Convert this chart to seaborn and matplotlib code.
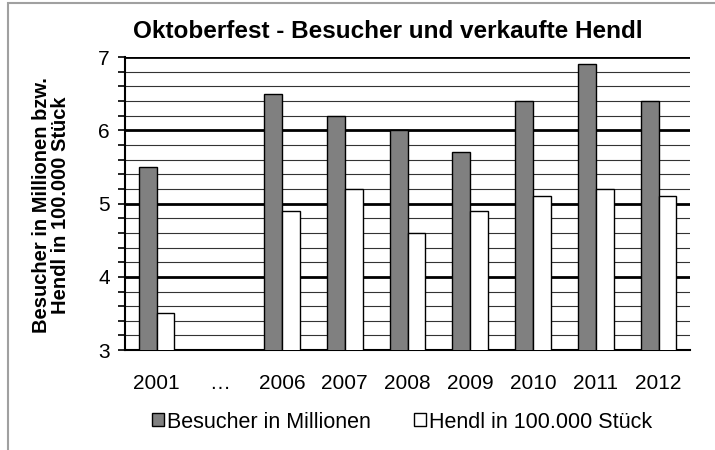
import matplotlib
matplotlib.use("Agg")
import matplotlib.pyplot as plt
from matplotlib.patches import Rectangle
from matplotlib.ticker import MultipleLocator
import seaborn as sns
import pandas as pd
import numpy as np

years = ["2001", "…", "2006", "2007", "2008", "2009", "2010", "2011", "2012"]
besucher = [5.5, np.nan, 6.5, 6.2, 6.0, 5.7, 6.4, 6.9, 6.4]
hendl = [3.5, np.nan, 4.9, 5.2, 4.6, 4.9, 5.1, 5.2, 5.1]
series = ["Besucher in Millionen", "Hendl in 100.000 Stück"]

sns.set_theme(style="white")
plt.rcParams['font.family'] = ['Liberation Sans', 'DejaVu Sans']
for k in ["text.color", "axes.labelcolor", "xtick.color", "ytick.color"]:
    plt.rcParams[k] = "black"

df = pd.DataFrame({
    "Jahr": years * 2,
    "Wert": besucher + hendl,
    "Serie": [series[0]] * len(years) + [series[1]] * len(years),
})

fig = plt.figure(figsize=(7.15, 4.5), dpi=100)
ax = fig.add_axes([0.175, 0.222, 0.79, 0.651])

sns.barplot(data=df, x="Jahr", y="Wert", hue="Serie", order=years,
            hue_order=series, palette=["#808080", "#ffffff"], width=0.57,
            edgecolor="black", linewidth=1.0, ax=ax, legend=True, zorder=3)

ax.set_ylim(3, 7)
ax.yaxis.set_major_locator(MultipleLocator(1))
ax.yaxis.set_minor_locator(MultipleLocator(0.2))
ax.grid(True, which="major", axis="y", color="black", linewidth=2.0, zorder=0)
ax.grid(True, which="minor", axis="y", color="#333333", linewidth=0.8, zorder=0)
ax.set_axisbelow(True)
ax.tick_params(axis="y", which="both", left=True, length=5, width=1.2, color="black",
               labelsize=15, pad=6)
ax.tick_params(axis="x", bottom=False, labelsize=15, pad=11)
for s in ["top", "right"]:
    ax.spines[s].set_visible(False)
ax.spines["left"].set_color("black")
ax.spines["left"].set_linewidth(1.5)
ax.spines["bottom"].set_color("black")
ax.spines["bottom"].set_linewidth(1.5)

ax.set_xlabel("")
ax.set_ylabel("")
fig.text(51 / 715, 1 - 205 / 450, "Besucher in Millionen bzw.\nHendl in 100.000 Stück",
         rotation=90, ha="center", va="center", multialignment="center",
         fontsize=14.5, fontweight="bold", linespacing=1.05)
fig.text(388 / 715, 1 - 32 / 450, "Oktoberfest - Besucher und verkaufte Hendl",
         ha="center", va="center", fontsize=17.5, fontweight="bold")

handles, labels = ax.get_legend_handles_labels()
ax.get_legend().remove()
fig.legend(handles, labels, loc="center", bbox_to_anchor=(402 / 715, 1 - 422 / 450),
           ncol=2, frameon=False, fontsize=15.5, handlelength=0.55, handleheight=0.55,
           handletextpad=0.15, columnspacing=2.0)

fig.patches.append(Rectangle((8 / 715, -0.1), 2.0, 1.1 - 3 / 450,
                             transform=fig.transFigure, fill=False,
                             edgecolor="#a0a0a0", linewidth=1.5))

fig.savefig("out.png", dpi=100)
